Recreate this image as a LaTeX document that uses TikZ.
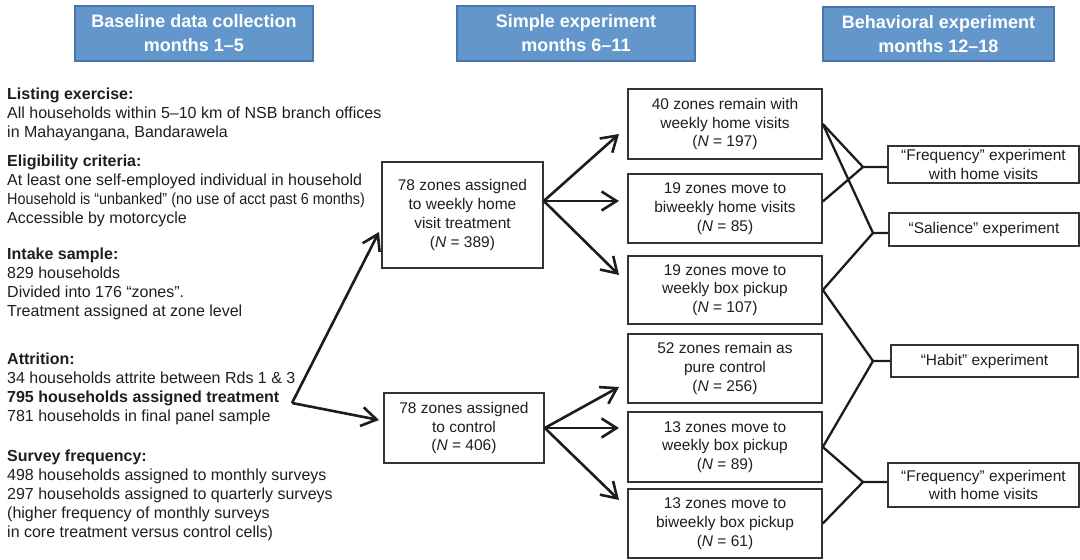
\documentclass[tikz,border=0pt]{standalone}
\usepackage{fontspec}
\usepackage{graphicx}
\setmainfont{Liberation Sans}
\usetikzlibrary{arrows.meta}
\definecolor{hdrfill}{HTML}{6397CC}
\definecolor{hdrborder}{HTML}{4A76AB}
\definecolor{boxline}{HTML}{333333}
\definecolor{arrcol}{HTML}{1C1C1C}
\definecolor{txt}{HTML}{1E1E1E}
\begin{document}
\begin{tikzpicture}[x=1pt,y=-1pt,
  hdr/.style={draw=hdrborder, line width=2.4pt, fill=hdrfill, text=white,
    font=\fontsize{18}{24}\selectfont\bfseries, align=center, inner sep=0pt},
  box/.style={draw=boxline, line width=1.6pt, align=center, text=txt,
    font=\fontsize{15.5}{18.8}\selectfont, inner sep=0pt},
  lbl/.style={align=left, anchor=north west, inner sep=0pt, text=txt,
    font=\fontsize{16}{18.9}\selectfont},
  arr/.style={line width=2.6pt, draw=arrcol, -{Straight Barb[length=15pt,width=19pt]}},
  lnk/.style={line width=2.3pt, draw=arrcol}
]
\useasboundingbox (0,0) rectangle (1080,560);

% headers
\node[hdr, minimum width=238pt, minimum height=55pt] (hb) at (194,33.5) {Baseline data collection\\months 1–5};
\node[hdr, minimum width=238pt, minimum height=55pt] (hs) at (576,33.5) {Simple experiment\\months 6–11};
\node[hdr, minimum width=231pt, minimum height=54pt] (hbe) at (938.5,34) {Behavioral experiment\\months 12–18};

% left text
\node[lbl] (g1) at (7,88) {\textbf{Listing exercise:}\\All households within 5–10 km of NSB branch offices\\in Mahayangana, Bandarawela};
\node[lbl] (g2) at (7,155) {\textbf{Eligibility criteria:}\\At least one self-employed individual in household\\\scalebox{0.9}[1]{Household is “unbanked” (no use of acct past 6 months)}\\Accessible by motorcycle};
\node[lbl] (g3) at (7,248) {\textbf{Intake sample:}\\829 households\\Divided into 176 “zones”.\\Treatment assigned at zone level};
\node[lbl] (g4) at (7,353) {\textbf{Attrition:}\\34 households attrite between Rds 1 \& 3\\\textbf{795 households assigned treatment}\\781 households in final panel sample};
\node[lbl] (g5) at (7,450) {\textbf{Survey frequency:}\\498 households assigned to monthly surveys\\297 households assigned to quarterly surveys\\(higher frequency of monthly surveys\\in core treatment versus control cells)};

% middle boxes
\node[box, minimum width=161pt, minimum height=106pt] (tr) at (462.5,215) {78 zones assigned\\to weekly home\\visit treatment\\(\textit{N} = 389)};
\node[box, minimum width=160pt, minimum height=70pt] (ct) at (464,428) {78 zones assigned\\to control\\(\textit{N} = 406)};

% right column boxes
\node[box, minimum width=194pt, minimum height=70pt] (r1) at (725,124) {40 zones remain with\\weekly home visits\\(\textit{N} = 197)};
\node[box, minimum width=194pt, minimum height=69pt] (r2) at (725,208.5) {19 zones move to\\biweekly home visits\\(\textit{N} = 85)};
\node[box, minimum width=194pt, minimum height=68pt] (r3) at (725,290) {19 zones move to\\weekly box pickup\\(\textit{N} = 107)};
\node[box, minimum width=194pt, minimum height=69pt] (r4) at (725,368.5) {52 zones remain as\\pure control\\(\textit{N} = 256)};
\node[box, minimum width=194pt, minimum height=70pt] (r5) at (725,447) {13 zones move to\\weekly box pickup\\(\textit{N} = 89)};
\node[box, minimum width=194pt, minimum height=69pt] (r6) at (725,523.5) {13 zones move to\\biweekly box pickup\\(\textit{N} = 61)};

% experiment boxes
\node[box, minimum width=191pt, minimum height=37pt] (f1) at (983.5,164.5) {“Frequency” experiment\\with home visits};
\node[box, minimum width=190pt, minimum height=33pt] (sa) at (984,229.5) {“Salience” experiment};
\node[box, minimum width=187pt, minimum height=32pt] (ha) at (984.5,361) {“Habit” experiment};
\node[box, minimum width=191pt, minimum height=44pt] (f2) at (983.5,485) {“Frequency” experiment\\with home visits};

% coordinates
\coordinate (split) at (292,403);
\coordinate (ttr) at (379,232);
\coordinate (tct) at (379,420);
\coordinate (trout) at ([yshift=14pt]tr.east);
\coordinate (ctout) at (ct.east);
\coordinate (t1) at (619,134);
\coordinate (t2) at (619,201);
\coordinate (t3) at (619,275);
\coordinate (t4) at (619,387);
\coordinate (t5) at (619,428);
\coordinate (t6) at (619,500);
\coordinate (j1) at (863,167);
\coordinate (j2) at (873,233);
\coordinate (j3) at (873,361);
\coordinate (j4) at (863,482);

% arrows
\draw[arr] (split) -- (ttr);
\draw[arr] (split) -- (tct);
\draw[arr] (trout) -- (t1);
\draw[arr] (trout) -- (t2);
\draw[arr] (trout) -- (t3);
\draw[arr] (ctout) -- (t4);
\draw[arr] (ctout) -- (t5);
\draw[arr] (ctout) -- (t6);

% links to experiments
\draw[lnk] (r1.east) -- (j1) -- (j1 -| f1.west);
\draw[lnk] ([yshift=7pt]r2.east) -- (j1);
\draw[lnk] (r1.east) -- (j2) -- (j2 -| sa.west);
\draw[lnk] (r3.east) -- (j2);
\draw[lnk] (r3.east) -- (j3) -- (j3 -| ha.west);
\draw[lnk] (r5.east) -- (j3);
\draw[lnk] (r5.east) -- (j4) -- (j4 -| f2.west);
\draw[lnk] (r6.east) -- (j4);
\end{tikzpicture}
\end{document}
